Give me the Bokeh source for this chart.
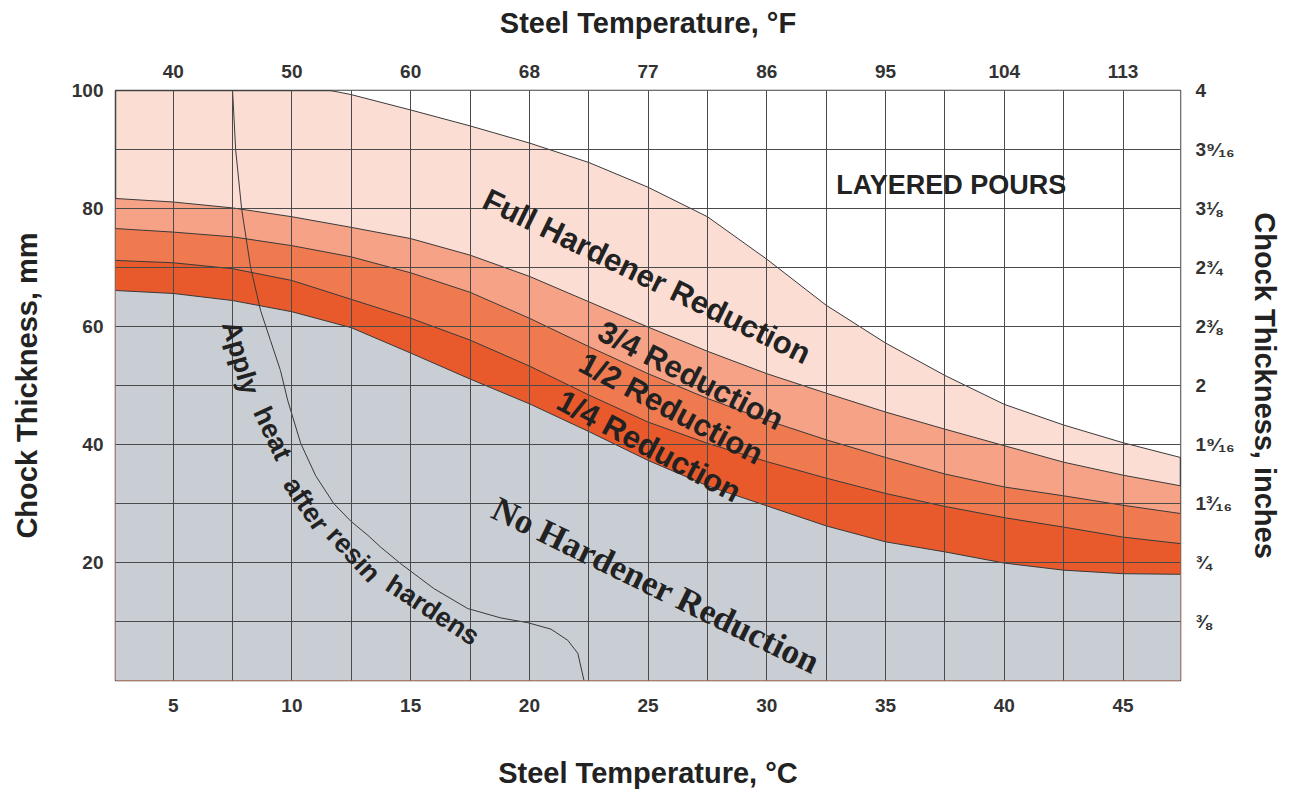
import math
from bokeh.plotting import figure
from bokeh.models import Range1d, LinearAxis, FixedTicker
from bokeh.embed import file_html
from bokeh.resources import INLINE
from bokeh.core.properties import value

# ---------------- data ----------------
TEMP_C = [2.57, 5, 7.5, 10, 12.5, 15, 17.5, 20, 22.5, 25, 27.5, 30,
          32.5, 35, 37.5, 40, 42.5, 45, 47.42]
NO_HARDENER = [66.1, 65.6, 64.4, 62.5, 59.8, 55.5, 51.1, 46.9, 42.2, 37.3, 33.0,
               29.6, 26.2, 23.5, 21.8, 19.9, 18.7, 18.1, 18.0]
QUARTER = [71.2, 70.8, 69.8, 67.8, 64.6, 61.4, 57.7, 53.3, 48.4, 43.8, 40.2,
           37.1, 34.3, 31.7, 29.5, 27.6, 26.0, 24.3, 23.2]
HALF = [76.6, 76.0, 75.2, 73.7, 71.8, 69.1, 65.8, 61.4, 56.6, 52.0, 47.8,
        44.1, 40.8, 37.8, 35.0, 32.8, 31.3, 29.7, 28.3]
THREE_QUARTER = [81.7, 81.1, 80.1, 78.6, 76.8, 74.9, 72.1, 68.5, 64.2, 59.9, 55.8,
                 52.0, 48.7, 45.5, 42.6, 39.8, 37.0, 34.8, 33.0]
FULL_TEMP = [11.63, 12.5, 15, 17.5, 20, 22.5, 25, 27.5, 30, 32.5, 35, 37.5,
             40, 42.5, 45, 47.42]
FULL = [100, 99.3, 96.7, 94.0, 91.1, 87.8, 83.6, 78.6, 71.4, 63.6, 57.2, 51.7,
        46.8, 43.3, 40.3, 37.8]
HEAT_TEMP = [7.5, 7.63, 7.88, 8.26, 8.68, 9.1, 9.52, 9.82, 10.37, 11.0, 11.76,
             12.48, 13.2, 13.74, 14.58, 15.97, 17.4, 18.8, 19.93, 20.91, 21.62,
             22.04, 22.3]
HEAT_MM = [100, 90, 80, 70, 62.7, 57.6, 52.5, 47.5, 40.2, 34.7, 30.0,
           27.0, 24.6, 22.6, 19.8, 15.6, 12.2, 10.6, 9.8, 8.7, 6.8,
           4.6, 0]

C_TICKS = [5, 10, 15, 20, 25, 30, 35, 40, 45]
F_LABELS = ["40", "50", "60", "68", "77", "86", "95", "104", "113"]
MM_TICKS = [20, 40, 60, 80, 100]
IN_TICKS = [10, 20, 30, 40, 50, 60, 70, 80, 90, 100]
IN_LABELS = ["⅜", "¾", "1³⁄₁₆", "1⁹⁄₁₆", "2", "2⅜", "2¾", "3⅛", "3⁹⁄₁₆", "4"]
GRID_C = [5, 7.5, 10, 12.5, 15, 17.5, 20, 22.5, 25, 27.5, 30, 32.5, 35,
          37.5, 40, 42.5, 45]
GRID_MM = [10, 20, 30, 40, 50, 60, 70, 80, 90]

X0, X1 = 2.57, 47.42
Y0, Y1 = 0, 100

FONT = "Liberation Sans"
SERIF = "Liberation Serif"

p = figure(frame_width=1065, frame_height=590,
           x_range=Range1d(X0, X1), y_range=Range1d(Y0, Y1),
           output_backend="svg", toolbar_location=None,
           min_border_left=115, min_border_right=100,
           min_border_top=90, min_border_bottom=104)
p.background_fill_color = "#fbddd3"
p.border_fill_color = "white"
p.outline_line_color = "#444444"
p.outline_line_width = 1.5

# bands (layered from top down)
p.varea(x=FULL_TEMP, y1=FULL, y2=[Y1] * len(FULL), fill_color="white")
p.varea(x=TEMP_C, y1=[Y0] * len(TEMP_C), y2=THREE_QUARTER, fill_color="#f5a286")
p.varea(x=TEMP_C, y1=[Y0] * len(TEMP_C), y2=HALF, fill_color="#ef7a50")
p.varea(x=TEMP_C, y1=[Y0] * len(TEMP_C), y2=QUARTER, fill_color="#e85a2b")
p.varea(x=TEMP_C, y1=[Y0] * len(TEMP_C), y2=NO_HARDENER, fill_color="#c9cdd4")

LINE = "#3a3a3a"
for ys in (NO_HARDENER, QUARTER, HALF, THREE_QUARTER):
    p.line(TEMP_C, ys, line_color=LINE, line_width=1)
p.line(FULL_TEMP, FULL, line_color=LINE, line_width=1)
p.line(HEAT_TEMP, HEAT_MM, line_color=LINE, line_width=1)

# grid
p.xgrid.ticker = FixedTicker(ticks=GRID_C)
p.ygrid.ticker = FixedTicker(ticks=GRID_MM)
for g in (p.xgrid[0], p.ygrid[0]):
    g.grid_line_color = "#4a4a4a"
    g.grid_line_width = 1
    g.level = "guide"

# axes
p.extra_x_ranges = {"f": Range1d(X0, X1)}
p.extra_y_ranges = {"inch": Range1d(Y0, Y1)}

def style_axis(ax, label, size, standoff, label_standoff):
    ax.axis_label = label
    ax.axis_label_text_font = FONT
    ax.axis_label_text_font_style = "bold"
    ax.axis_label_text_font_size = size
    ax.axis_label_text_color = "#222222"
    ax.axis_label_standoff = label_standoff
    ax.major_label_text_font = FONT
    ax.major_label_text_font_style = "bold"
    ax.major_label_text_font_size = "19px"
    ax.major_label_text_color = "#333333"
    ax.major_label_standoff = standoff
    ax.axis_line_color = None
    ax.major_tick_line_color = None
    ax.minor_tick_line_color = None
    ax.major_tick_out = 0
    ax.major_tick_in = 0
    ax.minor_tick_out = 0
    ax.minor_tick_in = 0

bottom = p.xaxis[0]
bottom.ticker = FixedTicker(ticks=C_TICKS)
style_axis(bottom, "Steel Temperature, °C", "29px", 18, 42)

left = p.yaxis[0]
left.ticker = FixedTicker(ticks=MM_TICKS)
style_axis(left, "Chock Thickness, mm", "29px", 12, 26)

top = LinearAxis(x_range_name="f", ticker=FixedTicker(ticks=C_TICKS),
                 major_label_overrides={t: s for t, s in zip(C_TICKS, F_LABELS)})
style_axis(top, "Steel Temperature, °F", "29px", 13, 23)
p.add_layout(top, "above")

right = LinearAxis(y_range_name="inch", ticker=FixedTicker(ticks=IN_TICKS),
                   major_label_overrides={t: s for t, s in zip(IN_TICKS, IN_LABELS)})
style_axis(right, "Chock Thickness, inches", "29px", 15, 11)
p.add_layout(right, "right")

# annotations
def label(x, y, txt, angle_deg, size, font=FONT, style="bold", color="#222222"):
    p.text(x=[x], y=[y], text=[txt], angle=math.radians(angle_deg),
           text_font=value(font), text_font_size=f"{size}px",
           text_font_style=style, text_align="center", text_baseline="middle",
           text_color=color, level="overlay")

label(37.77, 83.9, "LAYERED POURS", 0, 27)
label(24.95, 68.5, "Full Hardener Reduction", -26, 31)
label(26.8, 51.7, "3/4 Reduction", -27, 31)
label(25.97, 46.1, "1/2 Reduction", -28, 31)
label(25.04, 39.7, "1/4 Reduction", -28, 31)
label(25.33, 16.1, "No Hardener Reduction", -26, 35, font=SERIF)

label(7.84, 54.7, "Apply", -74, 27)
label(9.19, 41.9, "heat", -65, 27)
label(10.6, 29.9, "after", -56, 27)
label(12.6, 21.4, "resin", -47, 27)
label(15.93, 11.9, "hardens", -33, 27)

open("out.html", "w").write(file_html(p, INLINE))
